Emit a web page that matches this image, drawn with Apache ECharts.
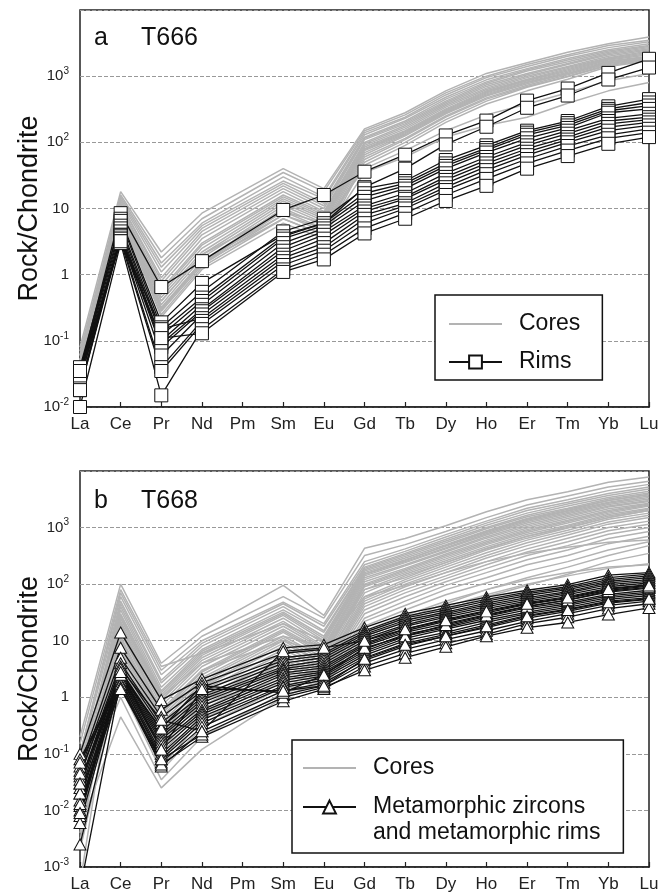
<!DOCTYPE html>
<html>
<head>
<meta charset="utf-8">
<script src="https://cdn.jsdelivr.net/npm/echarts@6/dist/echarts.min.js"></script>
<style>
html,body{margin:0;padding:0;background:#fff;}
#chart{width:672px;height:893px;}
</style>
</head>
<body>
<div id="chart"></div>
<script>
var FONT = 'Liberation Sans, Arial, sans-serif';

// x axis: chondrite-normalised REE (Pm not analysed)
var elements = ['La','Ce','Pr','Nd','Pm','Sm','Eu','Gd','Tb','Dy','Ho','Er','Tm','Yb','Lu'];
var measured = ['La','Ce','Pr','Nd','Sm','Eu','Gd','Tb','Dy','Ho','Er','Tm','Yb','Lu'];
// y tick labels, index = exponent + 3
var decadeLabels = ['10{s|-3}','10{s|-2}','10{s|-1}','1','10','10{s|2}','10{s|3}',''];

// ---- a  T666 ----
var coresA = [
  [0.08, 18, 2.2, 8.5, 40, 20, 160, 280, 600, 1100, 1600, 2300, 3100, 3900],
  [0.06, 16, 1.8, 7, 35, 18, 150, 260, 560, 1000, 1500, 2100, 2900, 3500],
  [0.05, 15, 1.5, 6, 30, 15, 140, 240, 520, 950, 1400, 2000, 2700, 3300],
  [0.07, 14, 1.3, 5.5, 26, 14, 130, 230, 480, 880, 1300, 1850, 2500, 3100],
  [0.04, 13, 1.1, 5, 24, 12, 120, 210, 450, 820, 1250, 1750, 2400, 2900],
  [0.05, 12, 0.9, 4.5, 22, 11, 115, 200, 420, 780, 1200, 1650, 2300, 2800],
  [0.03, 12, 0.8, 4, 20, 10, 110, 190, 400, 740, 1100, 1550, 2200, 2700],
  [0.06, 11, 0.7, 3.5, 18, 9, 100, 180, 380, 700, 1050, 1500, 2100, 2600],
  [0.04, 11, 0.6, 3, 16, 8.5, 95, 170, 360, 660, 1000, 1400, 2000, 2500],
  [0.05, 10, 0.55, 2.8, 15, 8, 90, 160, 340, 630, 950, 1350, 1900, 2400],
  [0.03, 10, 0.5, 2.5, 14, 7.5, 85, 150, 320, 600, 900, 1300, 1850, 2300],
  [0.04, 9.5, 0.45, 2.2, 13, 7, 80, 145, 310, 580, 870, 1250, 1800, 2200],
  [0.05, 9, 0.4, 2, 12, 6.5, 78, 140, 300, 560, 850, 1200, 1750, 2100],
  [0.03, 9, 0.35, 1.8, 11, 6, 75, 135, 290, 540, 820, 1150, 1700, 2000],
  [0.04, 8.5, 0.32, 1.6, 10, 5.5, 70, 130, 280, 520, 800, 1100, 1650, 1950],
  [0.03, 8.5, 0.3, 1.5, 9, 5, 65, 125, 270, 500, 770, 1100, 1600, 1900],
  [0.05, 8, 0.28, 1.4, 8, 4.5, 60, 115, 250, 470, 730, 1050, 1550, 1850],
  [0.04, 8, 0.25, 1.3, 7, 4, 55, 110, 240, 450, 700, 1000, 1500, 1800],
  [0.03, 8, 0.23, 1.2, 6, 3.5, 50, 100, 220, 420, 680, 980, 1450, 1750],
  [0.04, 9, 0.3, 1.6, 8, 5, 45, 90, 200, 380, 600, 900, 1400, 1700],
  [0.05, 10, 0.4, 2, 9, 6, 40, 75, 150, 260, 380, 560, 850, 1100],
  [0.04, 8.5, 0.3, 1.5, 7, 4, 35, 60, 120, 180, 240, 390, 600, 800]
];
var rimsA = [
  [0.035, 8.5, 0.65, 1.6, 9.5, 16, 36, 65, 127, 213, 427, 650, 1120, 1830],
  [0.03, 7, 0.19, 0.75, 4, 6, 21, 40, 93, 172, 333, 510, 890, 1350],
  [0.04, 6.5, 0.16, 0.55, 4.5, 7, 20, 26, 54, 90, 150, 210, 350, 450],
  [0.035, 5.5, 0.14, 0.45, 3.8, 6, 17, 24, 48, 82, 140, 195, 320, 400],
  [0.03, 5, 0.12, 0.4, 3.5, 5.5, 15, 22, 44, 76, 130, 180, 300, 360],
  [0.025, 4.5, 0.1, 0.35, 3, 5, 13, 20, 40, 70, 115, 165, 280, 320],
  [0.02, 4, 0.09, 0.3, 2.6, 4.5, 11, 17, 34, 60, 100, 150, 230, 270],
  [0.018, 4, 0.08, 0.28, 2.3, 4, 10, 15, 30, 54, 90, 135, 210, 240],
  [0.02, 3.8, 0.06, 0.25, 2, 3.5, 9, 14, 27, 48, 80, 120, 190, 220],
  [0.025, 3.5, 0.15, 0.22, 1.8, 3, 8, 12, 24, 43, 72, 110, 170, 200],
  [0.018, 3.5, 0.04, 0.2, 1.6, 2.6, 7, 11, 21, 38, 64, 100, 150, 180],
  [0.03, 3.2, 0.035, 0.18, 1.4, 2.3, 6, 10, 19, 33, 56, 88, 130, 160],
  [0.01, 3, 0.015, 0.15, 1.2, 2, 5, 8.5, 16, 28, 48, 75, 115, 140],
  [0.035, 3.2, 0.11, 0.13, 1.1, 1.7, 4.2, 7, 13, 22, 40, 62, 95, 120]
];

// ---- b  T668 ----
var coresB = [
  [0.2, 100, 4, 15, 95, 28, 430, 640, 1080, 1900, 3100, 4300, 6300, 7800],
  [0.1, 60, 2.5, 10, 48, 20, 250, 420, 750, 1300, 2200, 3100, 4500, 5800],
  [0.08, 50, 2, 9, 45, 18, 220, 380, 680, 1200, 2000, 2800, 4000, 5200],
  [0.05, 45, 1.8, 8, 40, 15, 200, 350, 620, 1100, 1800, 2600, 3700, 4800],
  [0.04, 40, 1.5, 7, 35, 14, 190, 330, 580, 1000, 1650, 2400, 3400, 4400],
  [0.03, 35, 1.3, 6.5, 32, 12, 180, 310, 540, 950, 1550, 2200, 3200, 4100],
  [0.06, 30, 1.2, 6, 30, 11, 170, 290, 500, 880, 1450, 2100, 3000, 3900],
  [0.02, 28, 1.1, 5.5, 28, 10, 160, 270, 470, 820, 1350, 1950, 2800, 3600],
  [0.015, 25, 1, 5, 25, 9, 150, 250, 440, 780, 1280, 1850, 2700, 3400],
  [0.01, 22, 0.9, 4.5, 22, 8, 140, 240, 420, 740, 1200, 1750, 2550, 3200],
  [0.03, 20, 0.8, 4, 20, 7.5, 130, 220, 390, 690, 1120, 1650, 2400, 3000],
  [0.008, 18, 0.7, 3.5, 18, 7, 120, 210, 370, 650, 1050, 1550, 2300, 2900],
  [0.02, 16, 0.6, 3, 16, 6.5, 110, 190, 340, 600, 980, 1450, 2150, 2700],
  [0.005, 15, 0.55, 2.8, 15, 6, 100, 180, 320, 560, 920, 1350, 2000, 2600],
  [0.012, 14, 0.5, 2.5, 14, 5.5, 95, 170, 300, 530, 870, 1280, 1900, 2500],
  [0.04, 12, 0.45, 2.2, 12, 5, 90, 160, 280, 500, 820, 1200, 1800, 2400],
  [0.007, 11, 0.4, 2, 11, 4.5, 80, 150, 260, 460, 760, 1100, 1700, 2200],
  [0.025, 10, 0.35, 1.8, 10, 4, 70, 140, 240, 430, 700, 1050, 1600, 2100],
  [0.003, 9, 0.3, 1.6, 9, 4, 60, 120, 220, 400, 650, 980, 1500, 2000],
  [0.015, 8, 0.28, 1.5, 8, 3.5, 55, 110, 200, 360, 600, 900, 1400, 1800],
  [0.05, 7, 0.25, 1.3, 7, 3.2, 50, 100, 180, 320, 540, 820, 1250, 1650],
  [0.01, 6, 0.22, 1.2, 6, 3, 45, 90, 160, 290, 480, 740, 1150, 1500],
  [0.004, 5, 0.2, 1, 5, 2.8, 40, 80, 140, 250, 420, 650, 1000, 1300],
  [0.02, 4.5, 0.18, 0.9, 4.5, 2.5, 35, 70, 125, 220, 370, 560, 880, 1150],
  [0.009, 4, 0.15, 0.8, 4, 2.3, 30, 60, 110, 190, 320, 480, 760, 1000],
  [0.006, 3.5, 0.12, 0.7, 3.5, 2.1, 25, 50, 95, 160, 270, 400, 640, 850],
  [0.03, 3, 0.1, 0.6, 3, 2, 22, 42, 80, 130, 220, 320, 520, 700],
  [0.002, 2.5, 0.08, 0.5, 2.5, 1.8, 18, 35, 65, 105, 170, 250, 400, 560],
  [0.012, 2, 0.06, 0.4, 2, 1.6, 15, 28, 50, 80, 120, 160, 200, 220],
  [0.008, 1.5, 0.05, 0.3, 1.5, 1.5, 12, 22, 40, 65, 100, 140, 190, 230],
  [0.02, 1, 0.035, 0.2, 1.2, 1.8, 10, 18, 35, 60, 95, 150, 250, 350],
  [0.005, 0.45, 0.025, 0.12, 1, 2, 14, 25, 45, 80, 130, 200, 320, 480],
  [0.1, 70, 3, 12, 60, 25, 320, 500, 850, 1500, 2500, 3600, 5200, 6600],
  [0.15, 80, 3.5, 6, 20, 10, 150, 260, 480, 850, 1400, 2000, 3000, 3800],
  [0.0005, 20, 0.5, 3, 10, 6, 80, 130, 240, 420, 700, 1000, 1500, 2000],
  [0.07, 25, 1, 4, 12, 8, 60, 95, 160, 250, 350, 450, 550, 600]
];
var metaB = [
  [0.1, 14, 0.9, 2.1, 7.5, 8.5, 17, 30, 42, 59, 78, 98, 144, 160],
  [0.06, 7.5, 0.6, 1.8, 6, 7, 15, 27, 38, 54, 72, 90, 130, 150],
  [0.05, 5, 0.45, 1.5, 5, 6, 14, 25, 35, 50, 68, 85, 120, 140],
  [0.04, 4, 0.35, 1.3, 4.5, 5.5, 13, 23, 32, 46, 63, 80, 112, 130],
  [0.03, 3.5, 0.3, 1.1, 4, 5, 12, 21, 30, 43, 58, 74, 105, 120],
  [0.025, 3, 0.25, 1, 3.5, 4.5, 11, 19, 28, 40, 54, 70, 98, 112],
  [0.02, 3, 0.22, 0.9, 3.2, 4, 10, 18, 26, 37, 50, 65, 90, 105],
  [0.015, 2.8, 0.2, 0.8, 3, 3.6, 9, 16, 24, 34, 47, 60, 84, 98],
  [0.012, 2.6, 0.18, 0.7, 2.7, 3.3, 8.5, 15, 22, 31, 44, 56, 78, 92],
  [0.01, 2.5, 0.16, 0.6, 2.5, 3, 8, 14, 20, 29, 41, 52, 72, 85],
  [0.008, 2.4, 0.14, 0.55, 2.2, 2.8, 7, 13, 18, 27, 38, 48, 66, 78],
  [0.006, 2.3, 0.12, 0.5, 2, 2.6, 6.5, 12, 17, 25, 35, 45, 62, 72],
  [0.0025, 2.2, 0.1, 0.45, 1.8, 2.4, 6, 11, 16, 23, 32, 42, 58, 68],
  [0.0004, 2, 0.09, 0.4, 1.6, 2.2, 5.5, 10, 14, 21, 30, 39, 54, 63],
  [0.08, 2, 0.08, 0.35, 1.5, 2, 5, 9, 13, 19, 28, 36, 50, 58],
  [0.07, 1.8, 0.07, 0.3, 1.3, 1.8, 4.5, 8, 12, 17, 25, 33, 46, 54],
  [0.035, 1.7, 0.06, 0.25, 1.1, 1.6, 4, 7, 10.5, 15, 22, 30, 42, 50],
  [0.02, 1.5, 0.065, 0.2, 0.85, 1.4, 3.5, 6, 9, 13, 20, 26, 37, 45],
  [0.013, 1.4, 0.08, 0.22, 1, 1.5, 3, 5, 7.8, 12, 17, 21, 29, 38],
  [0.009, 2.5, 0.28, 1.6, 1.2, 2.5, 7.5, 12, 19, 28, 40, 52, 75, 88],
  [0.045, 3.2, 0.4, 0.25, 6.5, 7.5, 10, 16, 23, 33, 45, 58, 82, 95],
  [0.03, 2.8, 0.12, 1.4, 1.3, 1.6, 4.8, 8.5, 12, 18, 27, 35, 48, 55]
];

var metaName = 'Metamorphic zircons\nand metamorphic rims';

function toPoints(row) {
  return row.map(function (v, i) { return [measured[i], v]; });
}

function lines(rows, name, g, color, width, symbol, z) {
  return rows.map(function (row) {
    return {
      type: 'line', name: name, xAxisIndex: g, yAxisIndex: g,
      data: toPoints(row), symbol: symbol, showSymbol: false,
      lineStyle: { color: color, width: width },
      itemStyle: { color: '#fff', borderColor: '#111', borderWidth: 1 },
      z: z, silent: true, animation: false, clip: true
    };
  });
}

function markers(rows, g, symbol, size) {
  return rows.map(function (row) {
    return {
      type: 'scatter', xAxisIndex: g, yAxisIndex: g,
      data: toPoints(row), symbol: symbol, symbolSize: size,
      itemStyle: { color: '#fff', borderColor: '#111', borderWidth: 1, opacity: 1 },
      z: 5, silent: true, animation: false, clip: true
    };
  });
}

function xAx(g) {
  return {
    type: 'category', gridIndex: g, data: elements, boundaryGap: false,
    axisLine: { lineStyle: { color: '#222', width: 1.5 } },
    axisTick: { inside: true, length: 5, lineStyle: { color: '#222', width: 1.2 } },
    axisLabel: { fontSize: 17, color: '#222', margin: 9, fontFamily: FONT },
    splitLine: { show: false }
  };
}

function yAx(g, min) {
  return {
    type: 'log', logBase: 10, gridIndex: g, min: min, max: 10000,
    name: 'Rock/Chondrite', nameLocation: 'middle', nameGap: 37, nameMoveOverlap: false,
    nameTextStyle: { fontSize: 27, color: '#111', fontFamily: FONT },
    axisLine: { lineStyle: { color: '#222', width: 1.5 } },
    axisTick: { show: false },
    axisLabel: {
      fontSize: 15, color: '#222', margin: 11, fontFamily: FONT, lineHeight: 20,
      formatter: function (v) { return decadeLabels[Math.round(Math.log10(v)) + 3]; },
      rich: { s: { fontSize: 10, lineHeight: 12, verticalAlign: 'top', color: '#222', fontFamily: FONT } }
    },
    splitLine: { show: true, lineStyle: { color: '#999', type: 'dashed', width: 1 } }
  };
}

function titleText(text, left, top) {
  return { text: text, left: left, top: top, padding: 0,
    textStyle: { fontSize: 25, fontWeight: 'normal', color: '#111', fontFamily: FONT } };
}

function legendBox(left, top, padding, data, z, boxed) {
  return {
    orient: 'vertical', left: left, top: top, padding: padding, itemGap: 12,
    itemWidth: 53, itemHeight: 16, z: z,
    backgroundColor: boxed ? '#fff' : 'transparent',
    borderColor: '#111', borderWidth: boxed ? 1.5 : 0,
    textStyle: { fontSize: 23, color: '#111', fontFamily: FONT, lineHeight: 26, padding: [0, 0, 0, 12] },
    selectedMode: false, data: data
  };
}

var coresItem = { name: 'Cores', itemStyle: { opacity: 0 } };
// metamorphic entry: blank first line so the symbol sits beside the first text line
var metaLegend = legendBox(302, 768, 0, [metaName], 6, false);
metaLegend.formatter = function (name) { return ' \n' + name; };

var chart = echarts.init(document.getElementById('chart'));
chart.setOption({
  backgroundColor: '#fff',
  animation: false,
  title: [
    titleText('a', 94, 26), titleText('T666', 141, 26),
    titleText('b', 94, 489), titleText('T668', 141, 489)
  ],
  grid: [
    { left: 80, right: 23, top: 10, height: 397, show: true, borderColor: '#222', borderWidth: 1.5 },
    { left: 80, right: 23, top: 471, height: 397, show: true, borderColor: '#222', borderWidth: 1.5 }
  ],
  xAxis: [xAx(0), xAx(1)],
  yAxis: [yAx(0, 0.01), yAx(1, 0.001)],
  legend: [
    legendBox(435, 295, [16, 22, 5, 13], [coresItem, 'Rims'], 4, true),
    legendBox(292, 740, [15, 189, 72, 10], [coresItem], 4, true),
    metaLegend
  ],
  series: [].concat(
    lines(coresA, 'Cores', 0, '#b3b3b3', 1.5, 'none', 2),
    lines(rimsA, 'Rims', 0, '#111', 1.3, 'rect', 3),
    markers(rimsA, 0, 'rect', 13),
    lines(coresB, 'Cores', 1, '#b3b3b3', 1.5, 'none', 2),
    lines(metaB, metaName, 1, '#111', 1.3, 'triangle', 3),
    markers(metaB, 1, 'triangle', [12, 11])
  )
});
</script>
</body>
</html>
